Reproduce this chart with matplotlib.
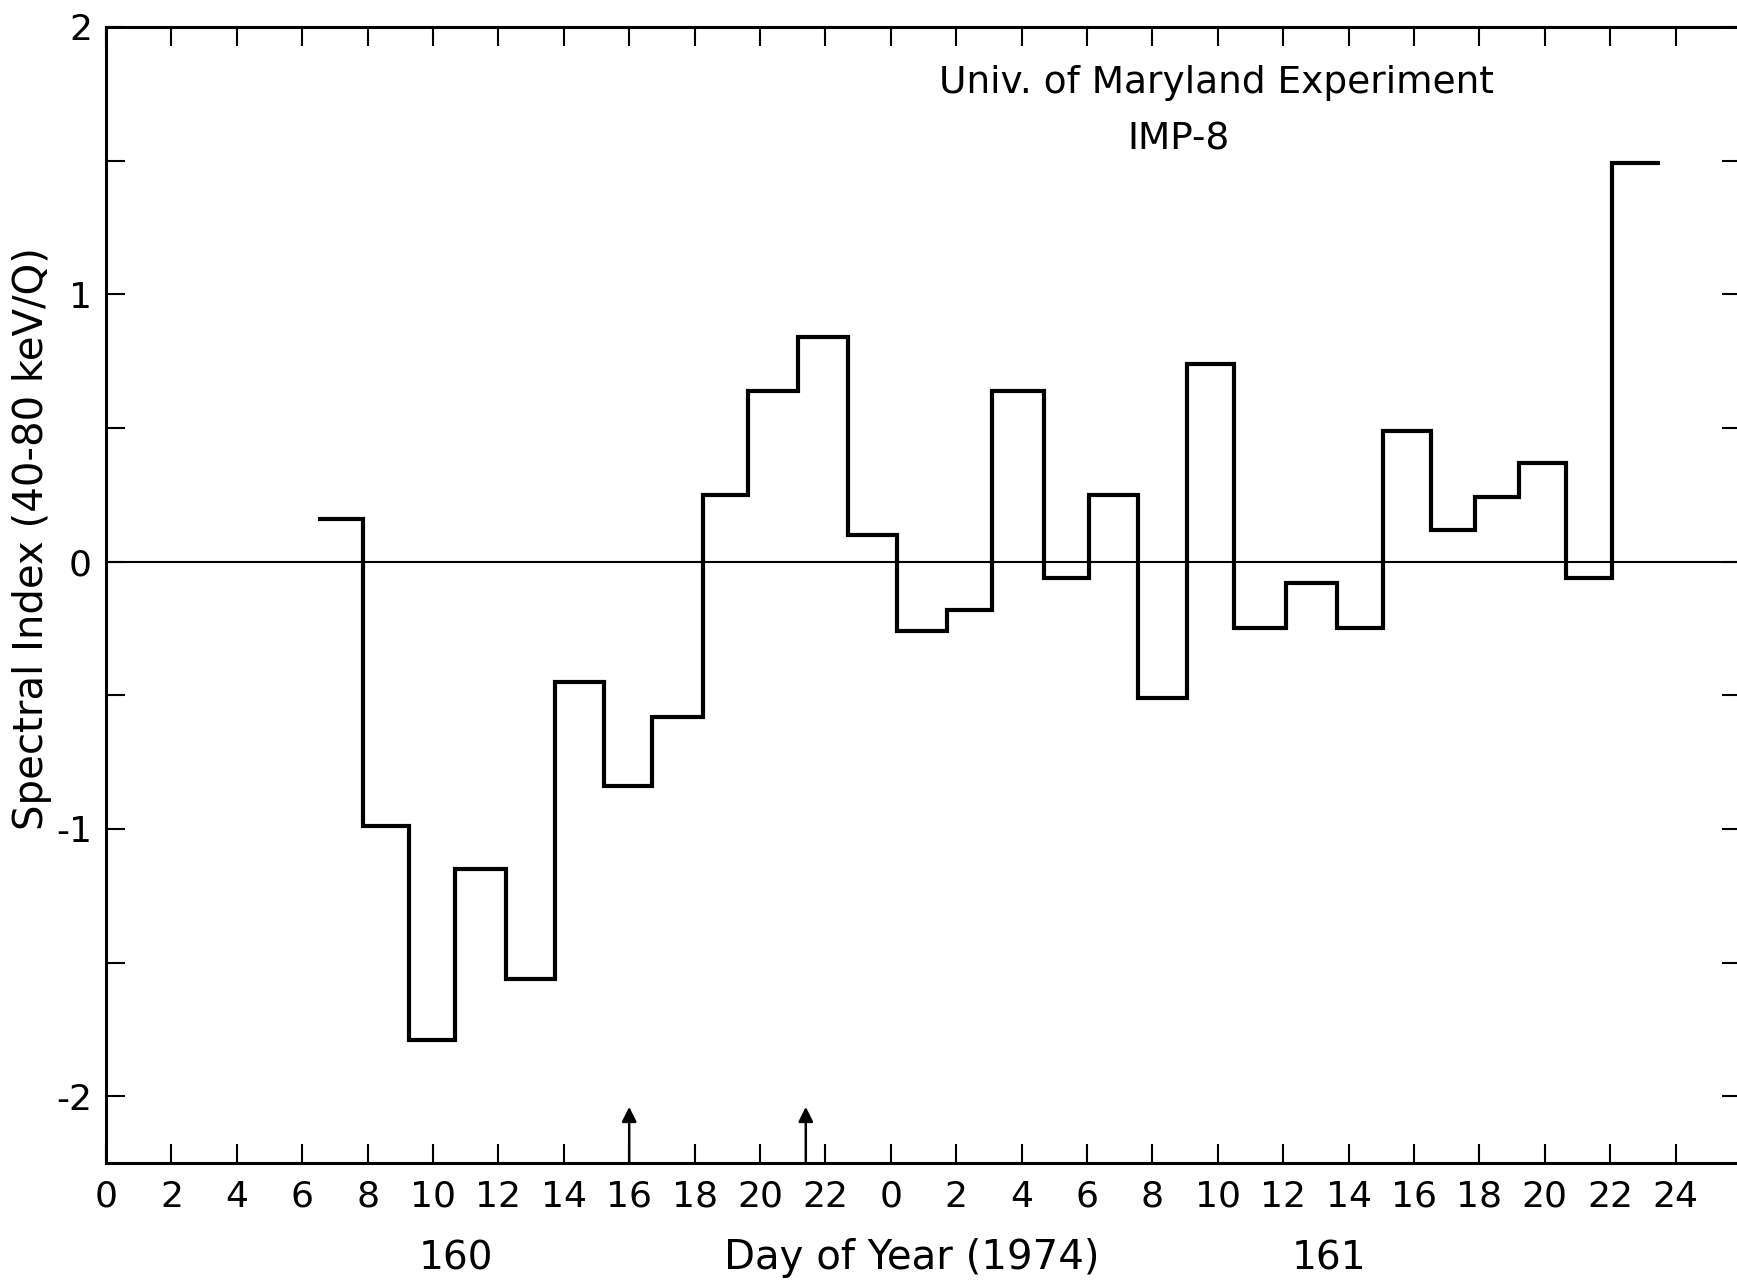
import numpy as np
import matplotlib.pyplot as plt

# hour edges of each averaging interval (0 = start of day 160, 24 = start of day 161)
edges = [6.47, 7.87, 9.27, 10.68, 12.22, 13.74, 15.24, 16.71, 18.27, 19.62,
         21.15, 22.68, 24.20, 25.71, 27.08, 28.68, 30.06, 31.55, 33.07, 34.51,
         36.09, 37.64, 39.06, 40.52, 41.87, 43.21, 44.64, 46.06, 47.52]
index = [0.16, -0.99, -1.79, -1.15, -1.56, -0.45, -0.84, -0.58, 0.25, 0.64,
         0.84, 0.10, -0.26, -0.18, 0.64, -0.06, 0.25, -0.51, 0.74, -0.25,
         -0.08, -0.25, 0.49, 0.12, 0.24, 0.37, -0.06, 1.49]

arrow_hours = [16.0, 21.4]

xtick_pos = np.arange(0, 49, 2)
xtick_labels = [str(h % 24) for h in xtick_pos]
xtick_labels[-1] = "24"
ytick_pos = [-2, -1, 0, 1, 2]
ytick_labels = ["-2", "-1", "0", "1", "2"]

day_labels = ["160", "161"]
day_pos = [10.7, 37.4]

plt.rcParams['font.family'] = ['DejaVu Sans']

W, H = 1737, 1281
fig = plt.figure(figsize=(W / 100, H / 100), dpi=100)
ax = fig.add_axes([106 / W, 1 - 1163 / H, (1741 - 106) / W, (1163 - 27) / H])

ax.stairs(index, edges, baseline=None, color='black', linewidth=3.0)
ax.axhline(0, color='black', linewidth=1.5)

for h in arrow_hours:
    ax.annotate("", xy=(h, -2.04), xytext=(h, -2.25),
                arrowprops=dict(arrowstyle='-|>', color='black', lw=1.8,
                                mutation_scale=22, shrinkA=0, shrinkB=0))

ax.set_xlim(0, 50)
ax.set_ylim(-2.25, 2)

ax.set_xticks(xtick_pos)
ax.set_xticklabels(xtick_labels)
ax.set_yticks(ytick_pos)
ax.set_yticklabels(ytick_labels)
ax.set_yticks(np.arange(-1.5, 2, 1.0), minor=True)

ax.tick_params(axis='both', which='both', direction='in', length=14,
               width=1.5, top=True, right=True, labelsize=26, colors='black')
ax.tick_params(axis='x', pad=12)
ax.tick_params(axis='y', pad=10)

for s in ax.spines.values():
    s.set_linewidth(2.2)

ax.set_ylabel("Spectral Index (40-80 keV/Q)", fontsize=29, va='center')
ax.yaxis.set_label_coords(-0.0455, 0.55)

fig.text(912 / W, 1 - 1258 / H, "Day of Year (1974)", fontsize=29,
         ha='center', va='center')
for lab, p in zip(day_labels, day_pos):
    fig.text((106 + p * 32.7) / W, 1 - 1258 / H, lab, fontsize=28,
             ha='center', va='center')

ax.text(0.679, 0.951, "Univ. of Maryland Experiment", fontsize=27,
        ha='center', va='center', transform=ax.transAxes)
ax.text(0.656, 0.901, "IMP-8", fontsize=27, ha='center', va='center',
        transform=ax.transAxes)

fig.savefig("out.png", dpi=100)
